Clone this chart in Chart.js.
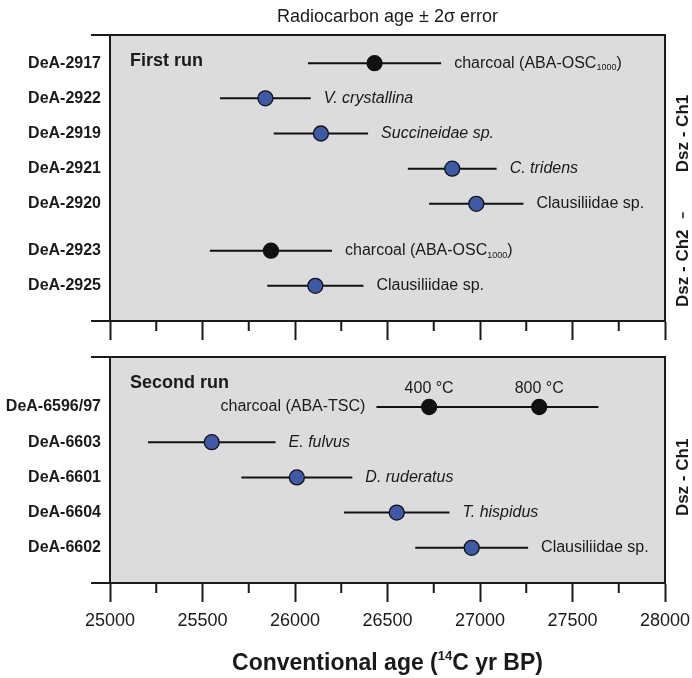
<!DOCTYPE html>
<html>
<head>
<meta charset="utf-8">
<script src="https://cdn.jsdelivr.net/npm/chart.js@4"></script>
<style>
  html, body { margin: 0; padding: 0; background: #fff; }
  #wrap { position: relative; width: 692px; height: 678px; }
  .box { position: absolute; left: 0; width: 692px; }
</style>
</head>
<body>
<div id="wrap">
  <div class="box" style="top:0;height:340px"><canvas id="firstRun"></canvas></div>
  <div class="box" style="top:340px;height:338px"><canvas id="secondRun"></canvas></div>
</div>
<script>
// x axis
const X_MIN = 25000, X_MAX = 28000, X_STEP = 500, X_MINOR = 250;

// First run
const firstSamples = ['DeA-2917', 'DeA-2922', 'DeA-2919', 'DeA-2921', 'DeA-2920', 'DeA-2923', 'DeA-2925'];
const firstAges = [26430, 25840, 26140, 26850, 26980, 25870, 26110];
const firstErrors = [360, 245, 255, 240, 255, 330, 260];
const firstMaterials = ['charcoal (ABA-OSC_{1000})', 'V. crystallina', 'Succineidae sp.', 'C. tridens',
  'Clausiliidae sp.', 'charcoal (ABA-OSC_{1000})', 'Clausiliidae sp.'];
const firstTemps = ['', '', '', '', '', '', ''];
const firstUnits = ['Dsz - Ch1', 'Dsz - Ch1', 'Dsz - Ch1', 'Dsz - Ch1', 'Dsz - Ch1', 'Dsz - Ch2', 'Dsz - Ch2'];

// Second run (DeA-6596/97 has two temperature fractions)
const secondSamples = ['DeA-6596/97', 'DeA-6596/97', 'DeA-6603', 'DeA-6601', 'DeA-6604', 'DeA-6602'];
const secondAges = [26725, 27320, 25550, 26010, 26550, 26955];
const secondErrors = [285, 320, 345, 300, 285, 305];
const secondMaterials = ['charcoal (ABA-TSC)', 'charcoal (ABA-TSC)', 'E. fulvus', 'D. ruderatus',
  'T. hispidus', 'Clausiliidae sp.'];
const secondTemps = ['400 °C', '800 °C', '', '', '', ''];
const secondUnits = ['Dsz - Ch1', 'Dsz - Ch1', 'Dsz - Ch1', 'Dsz - Ch1', 'Dsz - Ch1', 'Dsz - Ch1'];

const italicNames = ['V. crystallina', 'Succineidae sp.', 'C. tridens', 'E. fulvus', 'D. ruderatus', 'T. hispidus'];

const FONT = '"Liberation Sans", Arial, Helvetica, sans-serif';
const INK = '#1a1a1a';
const BLUE = '#3d5aa8';
const PANEL_BG = '#dcdcdc';
const GROUP_GAP = 0.33;

Chart.defaults.font.family = FONT;
Chart.defaults.color = INK;

function buildRows(samples, ages, errors, materials, temps, units) {
  const rows = [];
  let pos = -1;
  samples.forEach((s, i) => {
    let row = rows[rows.length - 1];
    if (!row || row.name !== s) {
      pos += 1;
      if (row && row.unit !== units[i]) pos += GROUP_GAP;
      row = { name: s, unit: units[i], pos, items: [] };
      rows.push(row);
    }
    row.items.push({ age: ages[i], err: errors[i], material: materials[i], temp: temps[i] });
  });
  return rows;
}

function makeDatasets(rows) {
  const dots = [], colors = [], bars = [];
  rows.forEach(r => r.items.forEach(it => {
    dots.push({ x: it.age, y: r.pos });
    colors.push(it.material.startsWith('charcoal') ? '#111' : BLUE);
    bars.push({
      data: [{ x: it.age - it.err, y: r.pos }, { x: it.age + it.err, y: r.pos }],
      showLine: true, borderColor: '#111', borderWidth: 2, pointRadius: 0, pointHoverRadius: 0
    });
  }));
  // first dataset is drawn on top
  return [{ data: dots, pointRadius: 7.5, pointHoverRadius: 7.5, pointBackgroundColor: colors,
    pointBorderColor: '#111', pointBorderWidth: 1.3 }, ...bars];
}

// text with _{sub} / ^{sup} parts
function drawRich(ctx, text, x, y, align, size, weight, style) {
  const bits = [];
  const re = /([_^])\{([^}]*)\}/g;
  let last = 0, m;
  while ((m = re.exec(text))) {
    if (m.index > last) bits.push({ t: text.slice(last, m.index), k: '' });
    bits.push({ t: m[2], k: m[1] });
    last = re.lastIndex;
  }
  if (last < text.length) bits.push({ t: text.slice(last), k: '' });
  const fontFor = k => `${style} ${weight} ${k ? Math.round(size * 0.55) : size}px ${FONT}`;
  let w = 0;
  bits.forEach(b => { ctx.font = fontFor(b.k); w += ctx.measureText(b.t).width; });
  let cx = align === 'right' ? x - w : align === 'center' ? x - w / 2 : x;
  ctx.textAlign = 'left';
  ctx.textBaseline = 'middle';
  bits.forEach(b => {
    ctx.font = fontFor(b.k);
    const dy = b.k === '_' ? size * 0.3 : b.k === '^' ? -size * 0.32 : 0;
    ctx.fillText(b.t, cx, y + dy);
    cx += ctx.measureText(b.t).width;
  });
}

function decorPlugin(rows, opts) {
  return {
    id: 'decor',
    beforeDraw(chart) {
      const { ctx, chartArea: a } = chart;
      ctx.save();
      ctx.fillStyle = PANEL_BG;
      ctx.fillRect(a.left, a.top, a.right - a.left, a.bottom - a.top);
      ctx.restore();
    },
    afterDraw(chart) {
      const { ctx, chartArea: a, scales: { x, y } } = chart;
      ctx.save();
      ctx.strokeStyle = INK;
      ctx.lineWidth = 2;
      ctx.beginPath();
      ctx.moveTo(a.left - 19, a.top); ctx.lineTo(a.right, a.top); ctx.lineTo(a.right, a.bottom);
      ctx.moveTo(a.left - 19, a.bottom); ctx.lineTo(a.right, a.bottom);
      ctx.moveTo(a.left, a.top); ctx.lineTo(a.left, a.bottom);
      // minor ticks
      for (let v = x.min + X_MINOR; v < x.max; v += X_STEP) {
        const px = x.getPixelForValue(v);
        ctx.moveTo(px, a.bottom); ctx.lineTo(px, a.bottom + 10);
      }
      ctx.stroke();

      ctx.fillStyle = INK;
      // panel name
      drawRich(ctx, opts.name, a.left + 20, a.top + 26, 'left', 18, 'bold', 'normal');

      rows.forEach(r => {
        const py = y.getPixelForValue(r.pos);
        drawRich(ctx, r.name, a.left - 9, py, 'right', 16, 'bold', 'normal');
        r.items.forEach((it, k) => {
          const st = italicNames.includes(it.material) ? 'italic' : 'normal';
          if (r.items.length === 1) {
            drawRich(ctx, it.material, x.getPixelForValue(it.age + it.err) + 13, py, 'left', 16, 'normal', st);
          } else if (k === 0) {
            drawRich(ctx, it.material, x.getPixelForValue(it.age - it.err) - 11, py, 'right', 16, 'normal', st);
          }
          if (it.temp) drawRich(ctx, it.temp, x.getPixelForValue(it.age), py - 18, 'center', 16, 'normal', 'normal');
        });
      });

      // unit labels on the right
      const groups = [];
      rows.forEach(r => {
        const g = groups[groups.length - 1];
        if (g && g.unit === r.unit) g.rows.push(r); else groups.push({ unit: r.unit, rows: [r] });
      });
      const ux = a.right + 18;
      groups.forEach((g, gi) => {
        const y0 = y.getPixelForValue(g.rows[0].pos);
        const y1 = y.getPixelForValue(g.rows[g.rows.length - 1].pos);
        ctx.save();
        ctx.translate(ux, (y0 + y1) / 2);
        ctx.rotate(-Math.PI / 2);
        drawRich(ctx, g.unit, 0, 0, 'center', 17, 'bold', 'normal');
        ctx.restore();
        if (gi > 0) {
          const prev = groups[gi - 1].rows;
          const my = (y.getPixelForValue(prev[prev.length - 1].pos) + y0) / 2 - 12;
          ctx.lineWidth = 1.5;
          ctx.beginPath(); ctx.moveTo(ux, my - 3); ctx.lineTo(ux, my + 3); ctx.stroke();
        }
      });

      if (opts.title) drawRich(ctx, opts.title, (a.left + a.right) / 2, 17, 'center', 18, 'normal', 'normal');
      if (opts.xTitle) drawRich(ctx, opts.xTitle, (a.left + a.right) / 2, a.bottom + 81, 'center', 23, 'bold', 'normal');
      ctx.restore();
    }
  };
}

function makeChart(id, rows, opts) {
  return new Chart(document.getElementById(id), {
    type: 'scatter',
    data: { datasets: makeDatasets(rows) },
    options: {
      responsive: true,
      maintainAspectRatio: false,
      animation: false,
      events: [],
      layout: { padding: { left: 110, right: 27, top: opts.padTop, bottom: 0 } },
      plugins: { legend: { display: false }, tooltip: { enabled: false } },
      scales: {
        x: {
          type: 'linear', min: X_MIN, max: X_MAX, position: 'bottom',
          ticks: { stepSize: X_STEP, display: opts.showLabels, autoSkip: false, maxRotation: 0,
            padding: 8, color: INK, font: { size: 18 }, callback: v => String(v) },
          grid: { display: true, drawOnChartArea: false, drawTicks: true, tickLength: 19,
            tickColor: INK, tickWidth: 2 },
          border: { display: true, color: INK, width: 2 },
          afterFit: s => {
            s.height = opts.axisHeight;
            // the panel frame is fixed by layout padding, labels may overhang it
            s.paddingLeft = 0;
            s.paddingRight = 0;
          }
        },
        y: { type: 'linear', display: false, reverse: true, min: opts.yMin, max: opts.yMax }
      }
    },
    plugins: [decorPlugin(rows, opts)]
  });
}

const firstRows = buildRows(firstSamples, firstAges, firstErrors, firstMaterials, firstTemps, firstUnits);
const secondRows = buildRows(secondSamples, secondAges, secondErrors, secondMaterials, secondTemps, secondUnits);

makeChart('firstRun', firstRows, {
  name: 'First run', title: 'Radiocarbon age ± 2σ error', showLabels: false,
  padTop: 35, axisHeight: 19, yMin: -0.8, yMax: firstRows[firstRows.length - 1].pos + 1.0
});
makeChart('secondRun', secondRows, {
  name: 'Second run', xTitle: 'Conventional age (^{14}C yr BP)', showLabels: true,
  padTop: 17, axisHeight: 95, yMin: -1.42, yMax: secondRows[secondRows.length - 1].pos + 1.0
});
</script>
</body>
</html>
